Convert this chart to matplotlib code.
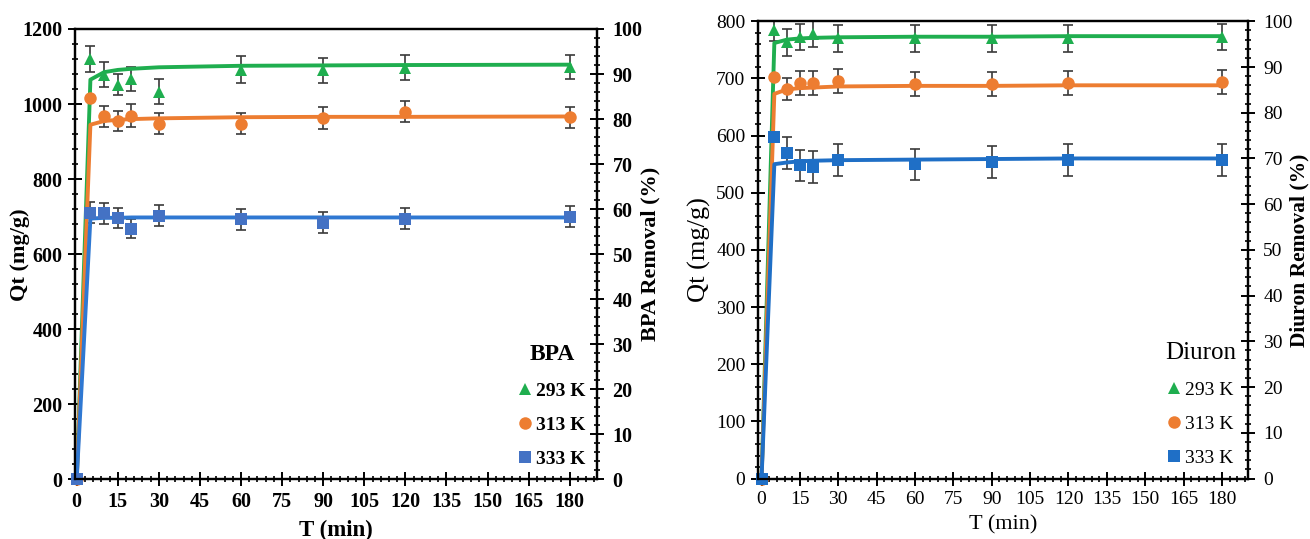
import matplotlib
matplotlib.use("Agg")
import matplotlib.pyplot as plt
from matplotlib.ticker import MultipleLocator
from matplotlib.lines import Line2D
import numpy as np

plt.rcParams['font.family'] = ['Liberation Serif', 'DejaVu Serif']

# ---------------- data ----------------
t_data = [0, 5, 10, 15, 20, 30, 60, 90, 120, 180]
t_fit = [0, 5, 10, 15, 20, 30, 60, 90, 120, 180]
labels = ["293 K", "313 K", "333 K"]

# BPA
bpa_293 = [0, 1121, 1078, 1051, 1068, 1033, 1092, 1090, 1097, 1099]
bpa_293_err = [0, 35, 33, 28, 32, 33, 35, 33, 33, 33]
bpa_313 = [0, 1017, 967, 954, 969, 948, 948, 962, 979, 965]
bpa_313_err = [0, 0, 29, 27, 30, 29, 29, 29, 28, 28]
bpa_333 = [0, 711, 709, 697, 668, 702, 693, 684, 695, 700]
bpa_333_err = [0, 28, 28, 27, 26, 28, 28, 28, 29, 28]
bpa_fit_293 = [0, 1065, 1085, 1091, 1094, 1098, 1102, 1103, 1104, 1105]
bpa_fit_313 = [0, 945, 955, 958, 960, 962, 965, 966, 966, 967]
bpa_fit_333 = [0, 695, 697, 697, 698, 698, 698, 698, 698, 698]

# Diuron
diu_293 = [0, 785, 763, 772, 778, 770, 770, 770, 770, 773]
diu_293_err = [0, 20, 24, 23, 23, 24, 24, 24, 23, 23]
diu_313 = [0, 703, 681, 692, 692, 696, 691, 690, 692, 694]
diu_313_err = [0, 0, 19, 21, 21, 21, 21, 21, 21, 21]
diu_333 = [0, 597, 570, 548, 545, 558, 550, 554, 558, 558]
diu_333_err = [0, 0, 28, 27, 28, 28, 27, 28, 28, 28]
diu_fit_293 = [0, 762, 768, 770, 771, 772, 773, 773, 774, 774]
diu_fit_313 = [0, 673, 681, 683, 684, 686, 687, 687, 688, 688]
diu_fit_333 = [0, 550, 553, 555, 556, 557, 558, 559, 560, 560]

green = "#1fae4f"
orange = "#ed7d31"
blue_l = "#4472c4"
blue_l_line = "#2f78d2"
blue_r = "#1f6fc6"
errc = "#3a3a3a"

fig = plt.figure(figsize=(13.1, 5.39), dpi=100)
axL = fig.add_axes([0.0573, 0.1104, 0.3985, 0.8358])
axR = fig.add_axes([0.5786, 0.1122, 0.3741, 0.8483])


def style_axes(ax, ax2, ymax, ymajor, yminor, weight, fs):
    ax.set_xlim(-0.6, 190)
    ax.set_ylim(0, ymax)
    ax2.set_ylim(0, 100)
    ax.xaxis.set_major_locator(MultipleLocator(15))
    ax.xaxis.set_minor_locator(MultipleLocator(3))
    ax.yaxis.set_major_locator(MultipleLocator(ymajor))
    ax.yaxis.set_minor_locator(MultipleLocator(yminor))
    ax2.yaxis.set_major_locator(MultipleLocator(10))
    ax2.yaxis.set_minor_locator(MultipleLocator(2))
    for a in (ax, ax2):
        for s in a.spines.values():
            s.set_linewidth(1.6)
            s.set_color("black")
    ax.tick_params(axis='both', which='major', direction='inout', length=10, width=1.4,
                   top=False, right=False, labelsize=fs, pad=4)
    ax.tick_params(axis='both', which='minor', direction='inout', length=5, width=1.2,
                   top=False, right=False)
    ax2.tick_params(axis='y', which='major', direction='inout', length=10, width=1.4,
                    labelsize=fs, pad=6)
    ax2.tick_params(axis='y', which='minor', direction='inout', length=5, width=1.2)
    for lab in ax.get_xticklabels() + ax.get_yticklabels() + ax2.get_yticklabels():
        lab.set_fontweight(weight)


def draw_series(ax, t, y, e, fit, color, linecolor, marker, ms):
    ax.errorbar(t[1:], y[1:], yerr=e[1:], fmt='none', ecolor=errc, elinewidth=1.2,
                capsize=3.5, capthick=1.2, zorder=2)
    ax.plot(t_fit, fit, color=linecolor, lw=2.8, zorder=3, solid_capstyle='round')
    ax.plot(t, y, linestyle='none', marker=marker, color=color, ms=ms, zorder=4,
            markeredgewidth=0, clip_on=False)


# ---------- Left: BPA ----------
axL2 = axL.twinx()
draw_series(axL, t_data, bpa_293, bpa_293_err, bpa_fit_293, green, green, '^', 9)
draw_series(axL, t_data, bpa_313, bpa_313_err, bpa_fit_313, orange, orange, 'o', 9)
draw_series(axL, t_data, bpa_333, bpa_333_err, bpa_fit_333, blue_l, blue_l_line, 's', 8)
style_axes(axL, axL2, 1200, 200, 40, 'bold', 14.5)
axL.set_xlabel("T (min)", fontsize=16.5, fontweight='bold', labelpad=6)
axL.set_ylabel("Qt (mg/g)", fontsize=16, fontweight='bold')
axL.yaxis.set_label_coords(-0.086, 0.5)
axL2.set_ylabel("BPA Removal (%)", fontsize=16, fontweight='bold', rotation=90)
axL2.yaxis.set_label_coords(1.084, 0.5)

hL = [Line2D([], [], linestyle='none', marker='^', color=green, ms=9, markeredgewidth=0),
      Line2D([], [], linestyle='none', marker='o', color=orange, ms=9, markeredgewidth=0),
      Line2D([], [], linestyle='none', marker='s', color=blue_l, ms=8, markeredgewidth=0)]
legL = axL.legend(hL, labels, title="BPA", loc='lower right', frameon=False,
                  prop={'size': 14, 'weight': 'bold'}, handlelength=0.6, handletextpad=0.25,
                  labelspacing=0.85, borderaxespad=0.2, bbox_to_anchor=(1.0, 0.0))
legL.get_title().set_fontsize(17)
legL.get_title().set_fontweight('bold')

# ---------- Right: Diuron ----------
axR2 = axR.twinx()
draw_series(axR, t_data, diu_293, diu_293_err, diu_fit_293, green, green, '^', 9)
draw_series(axR, t_data, diu_313, diu_313_err, diu_fit_313, orange, orange, 'o', 9)
draw_series(axR, t_data, diu_333, diu_333_err, diu_fit_333, blue_r, blue_r, 's', 8)
style_axes(axR, axR2, 800, 100, 20, 'normal', 14)
axR.set_xlim(-1.4, 190.2)
axR.set_xlabel("T (min)", fontsize=16, labelpad=5)
axR.set_ylabel("Qt (mg/g)", fontsize=19)
axR.yaxis.set_label_coords(-0.096, 0.5)
axR2.set_ylabel("Diuron Removal (%)", fontsize=15.5, fontweight='bold', rotation=90)
axR2.yaxis.set_label_coords(1.084, 0.5)

hR = [Line2D([], [], linestyle='none', marker='^', color=green, ms=9, markeredgewidth=0),
      Line2D([], [], linestyle='none', marker='o', color=orange, ms=9, markeredgewidth=0),
      Line2D([], [], linestyle='none', marker='s', color=blue_r, ms=8, markeredgewidth=0)]
legR = axR.legend(hR, labels, title="Diuron", loc='lower right', frameon=False,
                  prop={'size': 14}, handlelength=0.6, handletextpad=0.25,
                  labelspacing=0.85, borderaxespad=0.2, bbox_to_anchor=(1.0, 0.0))
legR.get_title().set_fontsize(18)

fig.savefig("out.png", dpi=100)
